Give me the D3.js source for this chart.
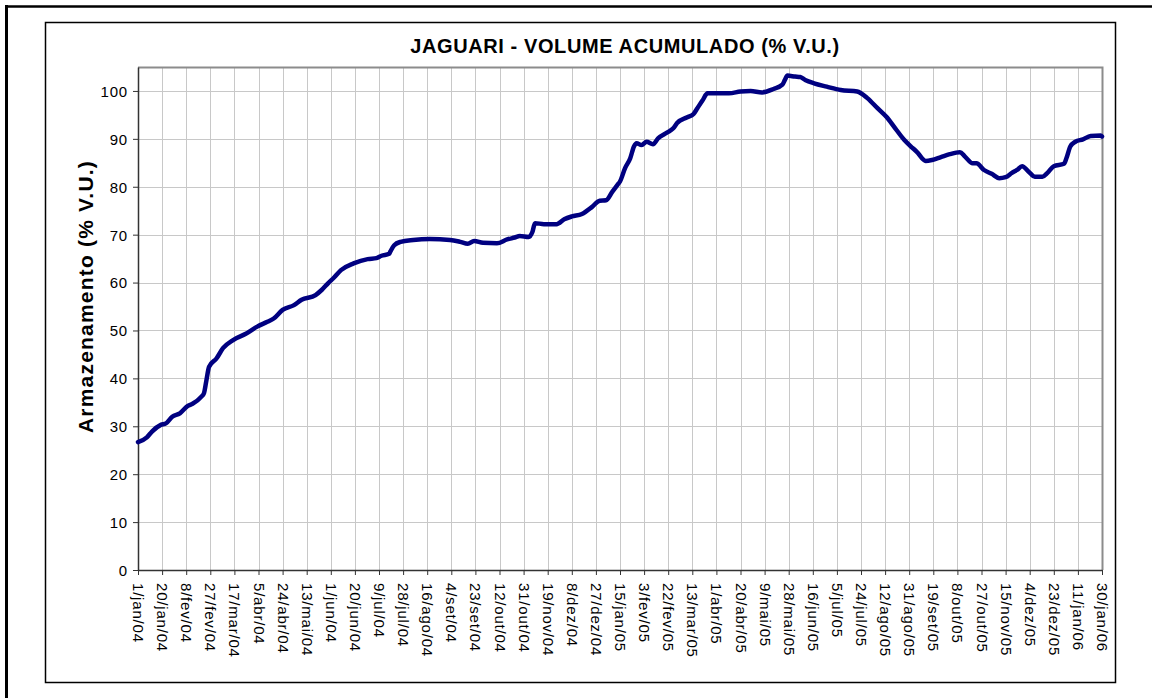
<!DOCTYPE html>
<meta charset="utf-8">
<style>
body { margin: 0; background: #fff; }
text { font-family: "Liberation Sans", Arial, sans-serif; fill: #000; }
.grid line { stroke: #c8c8c8; stroke-width: 1px; }
.axis path, .axis line { stroke: #333; }
.axis text { font-size: 15px; letter-spacing: 0.8px; }
.title { font-size: 20px; font-weight: bold; letter-spacing: 0.6px; }
.ylabel { font-size: 21px; font-weight: bold; letter-spacing: 1.2px; }
</style>
<body>
<script src="https://d3js.org/d3.v7.min.js"></script>
<script>

var width = 1152,
    height = 698;

// leituras diarias aproximadas (data, % V.U.)
var dates = [
  "2004-01-01","2004-01-08","2004-01-12","2004-01-19","2004-01-23","2004-01-28",
  "2004-02-03","2004-02-09","2004-02-13","2004-02-20","2004-02-22","2004-02-24",
  "2004-02-26","2004-03-03","2004-03-08","2004-03-16","2004-03-26","2004-04-04",
  "2004-04-12","2004-04-17","2004-04-24","2004-05-03","2004-05-09","2004-05-20",
  "2004-05-25","2004-05-30","2004-06-03","2004-06-09","2004-06-19","2004-06-30",
  "2004-07-07","2004-07-11","2004-07-17","2004-07-18","2004-07-21","2004-07-26",
  "2004-08-05","2004-08-18","2004-09-03","2004-09-11","2004-09-17","2004-09-22",
  "2004-09-29","2004-10-10","2004-10-18","2004-10-24","2004-10-28","2004-11-04",
  "2004-11-07","2004-11-09","2004-11-16","2004-11-26","2004-12-02","2004-12-08",
  "2004-12-16","2004-12-24","2004-12-30","2005-01-04","2005-01-09","2005-01-13",
  "2005-01-15","2005-01-19","2005-01-23","2005-01-26","2005-01-28","2005-02-01",
  "2005-02-05","2005-02-10","2005-02-14","2005-02-21","2005-02-26","2005-03-01",
  "2005-03-09","2005-03-14","2005-03-17","2005-03-21","2005-03-25","2005-04-01",
  "2005-04-11","2005-04-20","2005-04-28","2005-05-07","2005-05-16","2005-05-23",
  "2005-05-25","2005-05-27","2005-06-02","2005-06-06","2005-06-10","2005-06-17",
  "2005-06-27","2005-07-08","2005-07-21","2005-07-29","2005-08-06","2005-08-13",
  "2005-08-20","2005-08-27","2005-09-01","2005-09-06","2005-09-13","2005-09-18",
  "2005-09-25","2005-10-02","2005-10-10","2005-10-14","2005-10-20","2005-10-23",
  "2005-10-29","2005-11-04","2005-11-10","2005-11-15","2005-11-20","2005-11-24",
  "2005-11-28","2005-12-03","2005-12-08","2005-12-14","2005-12-18","2005-12-23",
  "2005-12-31","2006-01-02","2006-01-05","2006-01-09","2006-01-15","2006-01-21",
  "2006-01-29","2006-01-30"
];
var volume = [
  26.7, 27.7, 28.9, 30.3, 30.6, 32.0,
  32.7, 34.2, 34.7, 36.2, 36.9, 39.7,
  42.4, 44.2, 46.3, 48.0, 49.3, 50.8,
  51.8, 52.5, 54.3, 55.3, 56.4, 57.4,
  58.5, 59.9, 60.9, 62.6, 64.0, 64.9,
  65.1, 65.6, 66.0, 66.5, 67.8, 68.5,
  68.9, 69.1, 68.9, 68.5, 68.1, 68.7,
  68.3, 68.2, 69.0, 69.4, 69.7, 69.5,
  70.6, 72.4, 72.2, 72.2, 73.2, 73.8,
  74.3, 75.8, 77.1, 77.2, 79.0, 80.4,
  81.1, 83.9, 85.9, 88.4, 89.1, 88.7,
  89.4, 88.9, 90.1, 91.3, 92.2, 93.3,
  94.5, 95.2, 96.4, 98.0, 99.5, 99.5,
  99.5, 99.9, 100.0, 99.7, 100.4, 101.3,
  102.3, 103.2, 103.0, 102.9, 102.3, 101.6,
  100.9, 100.2, 99.9, 98.5, 96.4, 94.6,
  92.2, 89.8, 88.5, 87.3, 85.4, 85.6,
  86.2, 86.8, 87.2, 86.3, 84.9, 84.9,
  83.5, 82.7, 81.8, 82.0, 82.9, 83.5,
  84.3, 83.2, 82.1, 82.1, 82.9, 84.3,
  84.8, 86.0, 88.4, 89.4, 89.9, 90.6,
  90.7, 90.5
];

var tickStart = "2004-01-01", tickStepDays = 19, tickCount = 41;
var yTicks = [0, 10, 20, 30, 40, 50, 60, 70, 80, 90, 100];
var monthNames = ["jan","fev","mar","abr","mai","jun","jul","ago","set","out","nov","dez"];

var titleText = "JAGUARI - VOLUME ACUMULADO (% V.U.)";
var yLabelText = "Armazenamento (% V.U.)";

var parse = d3.timeParse("%Y-%m-%d");
var data = dates.map(function(d, i) { return {date: parse(d), value: volume[i]}; });

var t0 = parse(tickStart);
var xTickDates = d3.range(tickCount).map(function(i) { return d3.timeDay.offset(t0, i * tickStepDays); });

function fmt(d) {
  return d.getDate() + "/" + monthNames[d.getMonth()] + "/" + String(d.getFullYear()).slice(2);
}

var plot = {left: 138, top: 67, right: 1102, bottom: 570};

var x = d3.scaleTime()
    .domain([xTickDates[0], xTickDates[xTickDates.length - 1]])
    .range([plot.left, plot.right]);

var y = d3.scaleLinear()
    .domain([0, 105])
    .range([plot.bottom, plot.top]);

var svg = d3.select("body").append("svg")
    .attr("width", width)
    .attr("height", height);

svg.append("rect").attr("width", width).attr("height", height).attr("fill", "#fff");

// bordas externas (celula)
svg.append("line").attr("x1", 5).attr("x2", width).attr("y1", 6.5).attr("y2", 6.5)
    .attr("stroke", "#000").attr("stroke-width", 2.5);
svg.append("line").attr("x1", 6.5).attr("x2", 6.5).attr("y1", 5).attr("y2", height)
    .attr("stroke", "#000").attr("stroke-width", 3);

// caixa do grafico
svg.append("rect")
    .attr("x", 45.5).attr("y", 22.5)
    .attr("width", 1070).attr("height", 660)
    .attr("fill", "#fff")
    .attr("stroke", "#000").attr("stroke-width", 1.5);

// grade
var grid = svg.append("g").attr("class", "grid");
grid.selectAll(".gx")
    .data(xTickDates.slice(1))
    .enter().append("line")
    .attr("x1", function(d) { return Math.round(x(d)) + 0.5; })
    .attr("x2", function(d) { return Math.round(x(d)) + 0.5; })
    .attr("y1", plot.top)
    .attr("y2", plot.bottom);
grid.selectAll(".gy")
    .data(yTicks.slice(1))
    .enter().append("line")
    .attr("x1", plot.left)
    .attr("x2", plot.right)
    .attr("y1", function(d) { return Math.round(y(d)) + 0.5; })
    .attr("y2", function(d) { return Math.round(y(d)) + 0.5; });

// borda superior e direita da area de plotagem
svg.append("path")
    .attr("d", "M" + plot.left + "," + (plot.top + 0.5) + "H" + (plot.right + 0.5) + "V" + plot.bottom)
    .attr("fill", "none")
    .attr("stroke", "#8c8c8c")
    .attr("stroke-width", 2);

// eixos
var yAxis = svg.append("g")
    .attr("class", "axis")
    .attr("transform", "translate(" + plot.left + ",0)")
    .call(d3.axisLeft(y).tickValues(yTicks).tickSize(5).tickPadding(5).tickSizeOuter(0));
yAxis.select(".domain").attr("stroke-width", 1.5);
yAxis.selectAll("text").attr("dy", "0.36em");

var xAxis = svg.append("g")
    .attr("class", "axis")
    .attr("transform", "translate(0," + plot.bottom + ")")
    .call(d3.axisBottom(x).tickValues(xTickDates).tickFormat(fmt).tickSize(5).tickSizeOuter(0));
xAxis.select(".domain").attr("stroke-width", 1.5);
xAxis.selectAll("text")
    .attr("transform", "rotate(90)")
    .attr("x", 13)
    .attr("y", 0)
    .attr("dy", "0.36em")
    .style("text-anchor", "start");

// serie
var line = d3.line()
    .x(function(d) { return x(d.date); })
    .y(function(d) { return y(d.value); })
    .curve(d3.curveMonotoneX);

svg.append("path")
    .datum(data)
    .attr("fill", "none")
    .attr("stroke", "#000080")
    .attr("stroke-width", 4.5)
    .attr("stroke-linejoin", "round")
    .attr("stroke-linecap", "round")
    .attr("d", line);

// titulos
svg.append("text")
    .attr("class", "title")
    .attr("x", 625)
    .attr("y", 53)
    .attr("text-anchor", "middle")
    .text(titleText);

svg.append("text")
    .attr("class", "ylabel")
    .attr("transform", "translate(93,160) rotate(-90)")
    .attr("text-anchor", "end")
    .text(yLabelText);

</script>
